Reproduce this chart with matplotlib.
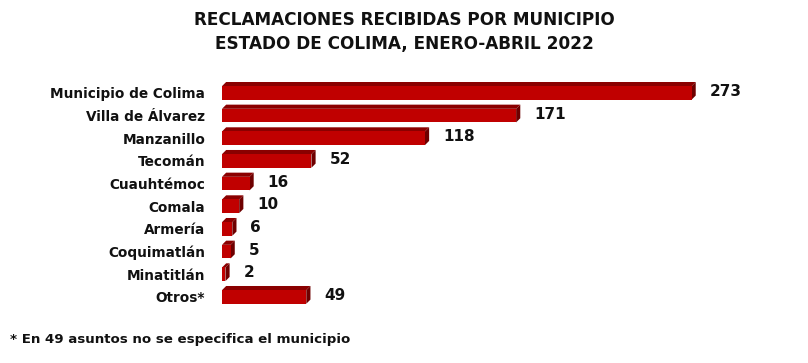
import matplotlib.pyplot as plt
from matplotlib.patches import Polygon
from matplotlib.transforms import ScaledTranslation

plt.rcParams['font.family'] = ['DejaVu Sans']

municipios = ['Municipio de Colima', 'Villa de Álvarez', 'Manzanillo', 'Tecomán',
              'Cuauhtémoc', 'Comala', 'Armería', 'Coquimatlán', 'Minatitlán', 'Otros*']
reclamaciones = [273, 171, 118, 52, 16, 10, 6, 5, 2, 49]

fig = plt.figure(figsize=(8.08, 3.63), dpi=100)
ax = fig.add_axes([222 / 808, 0.1507, 540 / 808, 0.6245])
ax.set_xlim(0, 540 / 1.72)
ax.set_ylim(len(municipios) - 0.5, -0.5)
ax.axis('off')

front = '#c00000'
top = '#8a0000'
side = '#6e0000'
h = 0.6
dx, dy = 3 / 72, 3 / 72  # profundidad en pulgadas

off = ScaledTranslation(dx, dy, fig.dpi_scale_trans)
for i, v in enumerate(reclamaciones):
    y0, y1 = i + h / 2, i - h / 2
    t_back = ax.transData + off
    inv = ax.transData.inverted()
    bx0, by0 = inv.transform(t_back.transform((0, y1)))
    bx1, by1 = inv.transform(t_back.transform((v, y1)))
    bx2, by2 = inv.transform(t_back.transform((v, y0)))
    # cara superior y lateral
    ax.add_patch(Polygon([(0, y1), (v, y1), (bx1, by1), (bx0, by0)], closed=True,
                         facecolor=top, edgecolor='none'))
    ax.add_patch(Polygon([(v, y1), (bx1, by1), (bx2, by2), (v, y0)], closed=True,
                         facecolor=side, edgecolor='none'))
    ax.barh(i, v, height=h, color=front, edgecolor='none')
    ax.annotate(str(v), (v, i), xytext=(13, 1), textcoords='offset points',
                va='center', ha='left', fontsize=11, fontweight='bold', color='#111111')
    ax.annotate(municipios[i], (0, i), xytext=(-12, -1), textcoords='offset points',
                va='center', ha='right', fontsize=9.8, fontweight='bold', color='#111111')

fig.text(0.5, 0.945, 'RECLAMACIONES RECIBIDAS POR MUNICIPIO', ha='center', va='center',
         fontsize=12.2, fontweight='bold', color='#111111')
fig.text(0.5, 0.88, 'ESTADO DE COLIMA, ENERO-ABRIL 2022', ha='center', va='center',
         fontsize=12.2, fontweight='bold', color='#111111')
fig.text(10 / 808, 1 - 340 / 363, '* En 49 asuntos no se especifica el municipio',
         ha='left', va='center', fontsize=9.6, fontweight='bold', color='#111111')

fig.savefig('out.png', dpi=100)
